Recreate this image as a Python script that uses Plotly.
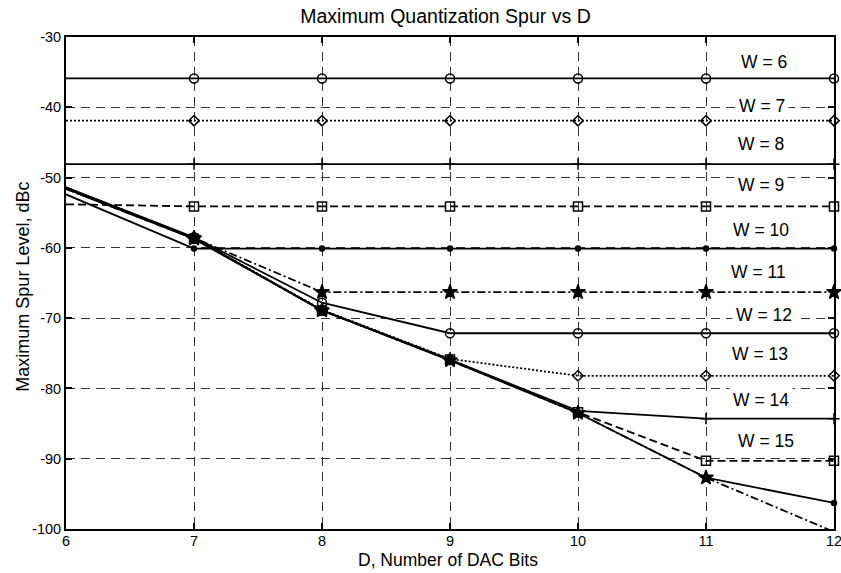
import plotly.graph_objects as go

# Data
D = [6, 7, 8, 9, 10, 11, 12]
W_values = [6, 7, 8, 9, 10, 11, 12, 13, 14, 15, 16, 17]
spur = {
    6:  [-35.9, -35.9, -35.9, -35.9, -35.9, -35.9, -35.9],
    7:  [-41.9, -41.9, -41.9, -41.9, -41.9, -41.9, -41.9],
    8:  [-48.1, -48.1, -48.1, -48.1, -48.1, -48.1, -48.1],
    9:  [-53.8, -54.1, -54.1, -54.1, -54.1, -54.1, -54.1],
    10: [-52.4, -60.1, -60.1, -60.1, -60.1, -60.1, -60.1],
    11: [-51.4, -58.6, -66.3, -66.3, -66.3, -66.3, -66.3],
    12: [-51.4, -58.5, -67.8, -72.15, -72.15, -72.15, -72.15],
    13: [-51.5, -58.6, -68.8, -75.8, -78.2, -78.2, -78.2],
    14: [-51.5, -58.6, -68.9, -75.9, -83.2, -84.3, -84.3],
    15: [-51.6, -58.7, -68.9, -75.9, -83.4, -90.3, -90.3],
    16: [-51.6, -58.7, -68.9, -76.0, -83.5, -92.7, -96.3],
    17: [-51.6, -58.7, -68.9, -76.0, -83.5, -92.7, -100.4],
}
label_W = [6, 7, 8, 9, 10, 11, 12, 13, 14, 15]
label_x = [11.45, 11.44, 11.43, 11.43, 11.43, 11.41, 11.45, 11.42, 11.43, 11.47]
label_y = [-33.5, -39.85, -45.2, -51.1, -57.4, -63.5, -69.5, -75.1, -81.65, -87.45]

x_ticks = [6, 7, 8, 9, 10, 11, 12]
y_ticks = [-30, -40, -50, -60, -70, -80, -90, -100]

# MATLAB-like cycle of line styles/markers
styles = [
    dict(dash="solid", symbol="circle-open", size=9),
    dict(dash="2px,2px", symbol="diamond-open", size=8),
    dict(dash="solid", symbol="cross-thin-open", size=8),
    dict(dash="8px,4px", symbol="square-open", size=9),
    dict(dash="solid", symbol="circle", size=5),
    dict(dash="8px,3px,2px,3px", symbol="star", size=11),
]

FONT = "Liberation Sans, Arial, Helvetica, sans-serif"
fig = go.Figure()

for i, w in enumerate(W_values):
    st = styles[i % 6]
    y = spur[w]
    fig.add_trace(go.Scatter(
        x=D, y=y, mode="lines",
        line=dict(color="black", width=1.8, dash=st["dash"]),
        showlegend=False, hoverinfo="skip", cliponaxis=True,
    ))
    fig.add_trace(go.Scatter(
        x=D[1:], y=y[1:], mode="markers",
        marker=dict(symbol=st["symbol"], size=st["size"], color="black",
                    line=dict(color="black", width=1.5)),
        showlegend=False, cliponaxis=False, name=f"W = {w}",
    ))

for w, lx, ly in zip(label_W, label_x, label_y):
    fig.add_annotation(
        x=lx, y=ly, xref="x", yref="y", text=f"W = {w}",
        showarrow=False, bgcolor="white", borderpad=3,
        font=dict(family=FONT, size=17.5, color="black"),
    )

# Axis titles
fig.add_annotation(
    x=(447.5 - 66) / 768, y=0, xref="paper", yref="paper",
    yshift=-31, yanchor="middle", xanchor="center",
    text="D, Number of DAC Bits", showarrow=False,
    font=dict(family=FONT, size=17.5, color="black"),
)
fig.add_annotation(
    x=0, y=(528.7 - 286.5) / 491.7, xref="paper", yref="paper",
    xshift=-43, xanchor="center", yanchor="middle", textangle=-90,
    text="Maximum Spur Level, dBc", showarrow=False,
    font=dict(family=FONT, size=18, color="black"),
)

fig.update_layout(
    width=841, height=573,
    margin=dict(l=66, r=7, t=37, b=44, autoexpand=False),
    paper_bgcolor="white", plot_bgcolor="white",
    title=dict(text="Maximum Quantization Spur vs D",
               x=445.5 / 841, xanchor="center", xref="container",
               y=1 - 16.5 / 573, yanchor="middle", yref="container",
               font=dict(family=FONT, size=19.5, color="black")),
    font=dict(family=FONT, size=14, color="black"),
)

axis_common = dict(
    showline=True, linecolor="black", linewidth=2, mirror="ticks",
    ticks="inside", ticklen=6, tickwidth=2, tickcolor="black",
    showgrid=True, gridcolor="#333", gridwidth=1, griddash="9px,6px",
    zeroline=False, automargin=False, ticklabeloverflow="allow",
    tickfont=dict(family=FONT, size=14.5, color="black"),
)
fig.update_xaxes(range=[6, 12], tickvals=x_ticks,
                 ticktext=[str(v) for v in x_ticks],
                 ticklabelstandoff=-2, **axis_common)
fig.update_yaxes(range=[-100, -30], tickvals=y_ticks,
                 ticktext=[str(v) for v in y_ticks], **axis_common)

fig.write_html("out.html")
